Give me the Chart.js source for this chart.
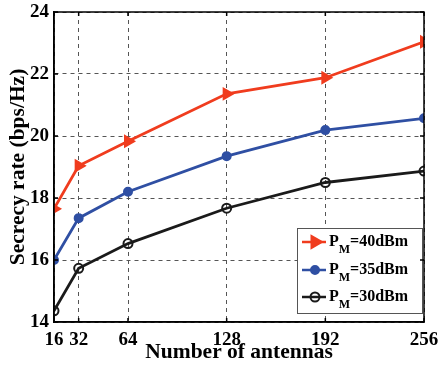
<!DOCTYPE html>
<html><head><meta charset="utf-8">
<script src="https://cdn.jsdelivr.net/npm/chart.js@4"></script>
<style>html,body{margin:0;padding:0;background:#fff}#w{width:440px;height:368px}</style>
</head><body><div id="w"><canvas id="c" width="440" height="368"></canvas></div>
<script>
const antennas = [16, 32, 64, 128, 192, 256];
const xTicks = [16, 32, 64, 128, 192, 256];
const yTicks = [14, 16, 18, 20, 22, 24];
const pm40 = [17.65, 19.04, 19.83, 21.36, 21.88, 23.04];
const pm35 = [16.0, 17.35, 18.2, 19.35, 20.19, 20.57];
const pm30 = [14.36, 15.73, 16.53, 17.67, 18.5, 18.87];
const seriesLabels = ['40dBm', '35dBm', '30dBm'];

const RED = '#f03c1e', BLUE = '#2f4fa3', BLACK = '#1a1a1a';
const FONT = '"Liberation Serif", "Times New Roman", serif';

function pts(arr){ return antennas.map((x,i)=>({x, y: arr[i]})); }

const boxPlugin = {
  id: 'boxPlugin',
  afterDatasetsDraw(chart){
    const {ctx, chartArea: a, scales} = chart;
    ctx.save();
    // legend
    const lx = 297, ly = 228, lw = 125, lh = 85;
    ctx.fillStyle = '#fff';
    ctx.fillRect(lx, ly, lw, lh);
    ctx.strokeStyle = '#555'; ctx.lineWidth = 1;
    ctx.strokeRect(lx + 0.5, ly + 0.5, lw, lh);
    const rows = [242, 270, 297];
    chart.data.datasets.forEach((ds, i) => {
      const y = rows[i];
      ctx.strokeStyle = ds.borderColor; ctx.lineWidth = 2.5;
      ctx.beginPath(); ctx.moveTo(lx + 5, y); ctx.lineTo(lx + 29, y); ctx.stroke();
      ctx.fillStyle = ds.pointBackgroundColor; ctx.strokeStyle = ds.borderColor;
      ctx.lineWidth = ds.pointBorderWidth || 2;
      Chart.helpers.drawPoint(ctx, {
        pointStyle: ds.pointStyle, rotation: ds.pointRotation || 0,
        radius: ds.pointRadius + (i === 0 ? 1 : 0), borderWidth: ds.pointBorderWidth || 2
      }, lx + 18, y);
      ctx.fillStyle = '#000';
      ctx.textBaseline = 'middle'; ctx.textAlign = 'left';
      ctx.font = 'bold 16px ' + FONT;
      ctx.fillText('P', lx + 32, y);
      const pw = ctx.measureText('P').width;
      ctx.font = 'bold 12px ' + FONT;
      ctx.fillText('M', lx + 32 + pw, y + 8);
      const mw = ctx.measureText('M').width;
      ctx.font = 'bold 16px ' + FONT;
      ctx.fillText('=' + seriesLabels[i], lx + 32 + pw + mw, y);
    });
    // frame and inward ticks
    ctx.strokeStyle = '#000'; ctx.lineWidth = 1.5;
    ctx.strokeRect(a.left, a.top, a.right - a.left, a.bottom - a.top);
    ctx.beginPath();
    xTicks.forEach(v => {
      const px = scales.x.getPixelForValue(v);
      ctx.moveTo(px, a.bottom); ctx.lineTo(px, a.bottom - 4);
      ctx.moveTo(px, a.top); ctx.lineTo(px, a.top + 4);
    });
    yTicks.forEach(v => {
      const py = scales.y.getPixelForValue(v);
      ctx.moveTo(a.left, py); ctx.lineTo(a.left + 4, py);
      ctx.moveTo(a.right, py); ctx.lineTo(a.right - 4, py);
    });
    ctx.stroke();
    ctx.restore();
  }
};

new Chart(document.getElementById('c'), {
  type: 'line',
  data: {
    datasets: [
      { label: 'PM=40dBm', data: pts(pm40), borderColor: RED, backgroundColor: RED,
        pointBackgroundColor: RED, pointBorderColor: RED, pointStyle: 'triangle',
        pointRotation: 90, pointRadius: 6, pointBorderWidth: 2, borderWidth: 2.8 },
      { label: 'PM=35dBm', data: pts(pm35), borderColor: BLUE, backgroundColor: BLUE,
        pointBackgroundColor: BLUE, pointBorderColor: BLUE, pointStyle: 'circle',
        pointRadius: 4, pointBorderWidth: 2, borderWidth: 2.8 },
      { label: 'PM=30dBm', data: pts(pm30), borderColor: BLACK, backgroundColor: BLACK,
        pointBackgroundColor: 'rgba(255,255,255,0)', pointBorderColor: BLACK, pointStyle: 'circle',
        pointRadius: 4.5, pointBorderWidth: 2, borderWidth: 2.8 }
    ]
  },
  options: {
    responsive: false, animation: false,
    layout: { padding: { left: 0, right: 16, top: 12, bottom: 0 } },
    plugins: { legend: { display: false }, tooltip: { enabled: false } },
    scales: {
      x: {
        type: 'linear', min: 16, max: 256,
        afterBuildTicks(s){ s.ticks = xTicks.map(v => ({value: v})); },
        afterFit(s){ s.height = 46; s.paddingLeft = 0; s.paddingRight = 0; },
        grid: { color: '#555', lineWidth: 1, drawTicks: false },
        border: { display: true, color: '#000', width: 1.5, dash: [4, 4] },
        ticks: { color: '#000', padding: 9, maxRotation: 0, autoSkip: false,
          font: { family: FONT, size: 19, weight: 'bold', lineHeight: 1 } },
        title: { display: true, text: 'Number of antennas', color: '#000',
          padding: { top: 0, bottom: 3 }, font: { family: FONT, size: 21.5, weight: 'bold' } }
      },
      y: {
        min: 14, max: 24,
        afterBuildTicks(s){ s.ticks = yTicks.map(v => ({value: v})); },
        afterFit(s){ s.width = 54; s.paddingTop = 0; s.paddingBottom = 0; },
        grid: { color: '#555', lineWidth: 1, drawTicks: false },
        border: { display: true, color: '#000', width: 1.5, dash: [4, 4] },
        ticks: { color: '#000', padding: 5,
          font: { family: FONT, size: 19, weight: 'bold', lineHeight: 1 } },
        title: { display: true, text: 'Secrecy rate (bps/Hz)', color: '#000',
          padding: { top: 6, bottom: 0 }, font: { family: FONT, size: 21.5, weight: 'bold' } }
      }
    }
  },
  plugins: [boxPlugin]
});
</script>
</body></html>
